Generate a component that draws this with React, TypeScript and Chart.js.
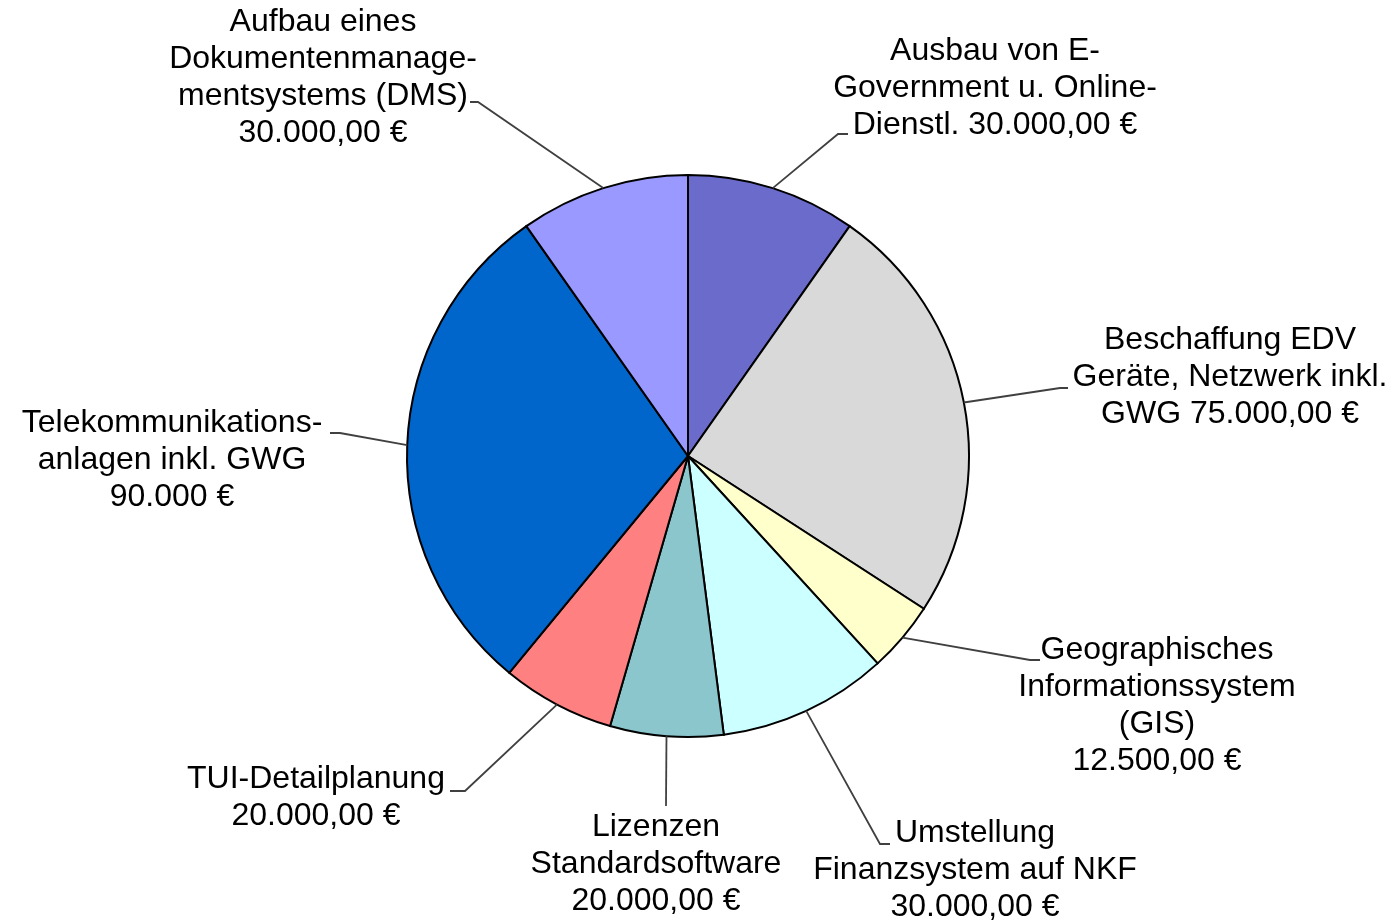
import React, { useEffect, useRef } from "react";
import { Chart, registerables } from "chart.js";

Chart.register(...registerables);

const categories = [
  "Ausbau von E-Government u. Online-Dienstl.",
  "Beschaffung EDV Geräte, Netzwerk inkl. GWG",
  "Geographisches Informationssystem (GIS)",
  "Umstellung Finanzsystem auf NKF",
  "Lizenzen Standardsoftware",
  "TUI-Detailplanung",
  "Telekommunikationsanlagen inkl. GWG",
  "Aufbau eines Dokumentenmanagementsystems (DMS)",
];
const values = [30000, 75000, 12500, 30000, 20000, 20000, 90000, 30000];
const colors = ["#6B6BCC", "#D9D9D9", "#FFFFCC", "#CCFFFF", "#8BC6CD", "#FF8080", "#0066CC", "#9999FF"];
const labelLines = [
  ["Ausbau von E-", "Government u. Online-", "Dienstl. 30.000,00 €"],
  ["Beschaffung EDV", "Geräte, Netzwerk inkl.", "GWG 75.000,00 €"],
  ["Geographisches", "Informationssystem", "(GIS)", "12.500,00 €"],
  ["Umstellung", "Finanzsystem auf NKF", "30.000,00 €"],
  ["Lizenzen", "Standardsoftware", "20.000,00 €"],
  ["TUI-Detailplanung", "20.000,00 €"],
  ["Telekommunikations-", "anlagen inkl. GWG", "90.000 €"],
  ["Aufbau eines", "Dokumentenmanage-", "mentsystems (DMS)", "30.000,00 €"],
];

// label annotation layout: text center x, first line center y, leader elbow and tail
const labelLayout = [
  { cx: 995, y0: 51, ex: 838, ey: 134, tx: 848, ty: 134 },
  { cx: 1230, y0: 340, ex: 1060, ey: 388, tx: 1068, ty: 388 },
  { cx: 1157, y0: 650, ex: 1030, ey: 660, tx: 1040, ty: 660 },
  { cx: 975, y0: 833, ex: 880, ey: 844, tx: 890, ty: 844 },
  { cx: 656, y0: 827, ex: 666, ey: 806, tx: 666, ty: 806 },
  { cx: 316, y0: 779, ex: 465, ey: 791, tx: 450, ty: 791 },
  { cx: 172, y0: 423, ex: 340, ey: 433, tx: 330, ty: 433 },
  { cx: 323, y0: 22, ex: 478, ey: 102, tx: 470, ty: 102 },
];

const FONT = '32px "Liberation Sans", Arial, sans-serif';
const LINE_H = 37;

const labelPlugin = {
  id: "pieLabels",
  afterDraw(chart: any) {
    const ctx = chart.ctx;
    const meta = chart.getDatasetMeta(0);
    ctx.save();
    meta.data.forEach((arc: any, i: number) => {
      const p = arc.getProps(["x", "y", "startAngle", "endAngle", "outerRadius"], true);
      const mid = (p.startAngle + p.endAngle) / 2;
      const sx = p.x + Math.cos(mid) * p.outerRadius;
      const sy = p.y + Math.sin(mid) * p.outerRadius;
      const L = labelLayout[i];
      ctx.strokeStyle = "#404040";
      ctx.lineWidth = 1.8;
      ctx.beginPath();
      ctx.moveTo(sx, sy);
      ctx.lineTo(L.ex, L.ey);
      ctx.lineTo(L.tx, L.ty);
      ctx.stroke();
      ctx.fillStyle = "#000000";
      ctx.font = FONT;
      ctx.textAlign = "center";
      ctx.textBaseline = "middle";
      labelLines[i].forEach((line, j) => {
        ctx.fillText(line, L.cx, L.y0 + j * LINE_H);
      });
    });
    ctx.restore();
  },
};

export default function App() {
  const ref = useRef<HTMLCanvasElement>(null);
  useEffect(() => {
    if (!ref.current) return;
    const chart = new Chart(ref.current, {
      type: "pie",
      data: {
        labels: categories,
        datasets: [
          {
            data: values,
            backgroundColor: colors,
            borderColor: "#000000",
            borderWidth: 2,
            borderJoinStyle: "miter",
          } as any,
        ],
      },
      options: {
        responsive: false,
        animation: false,
        layout: { padding: { left: 406, right: 423, top: 174, bottom: 183 } },
        plugins: { legend: { display: false }, tooltip: { enabled: false } },
      },
      plugins: [labelPlugin],
    });
    return () => chart.destroy();
  }, []);
  return (
    <div style={{ position: "absolute", left: 0, top: 0, width: 1393, height: 921, background: "#fff" }}>
      <canvas ref={ref} width={1393} height={921} />
    </div>
  );
}
